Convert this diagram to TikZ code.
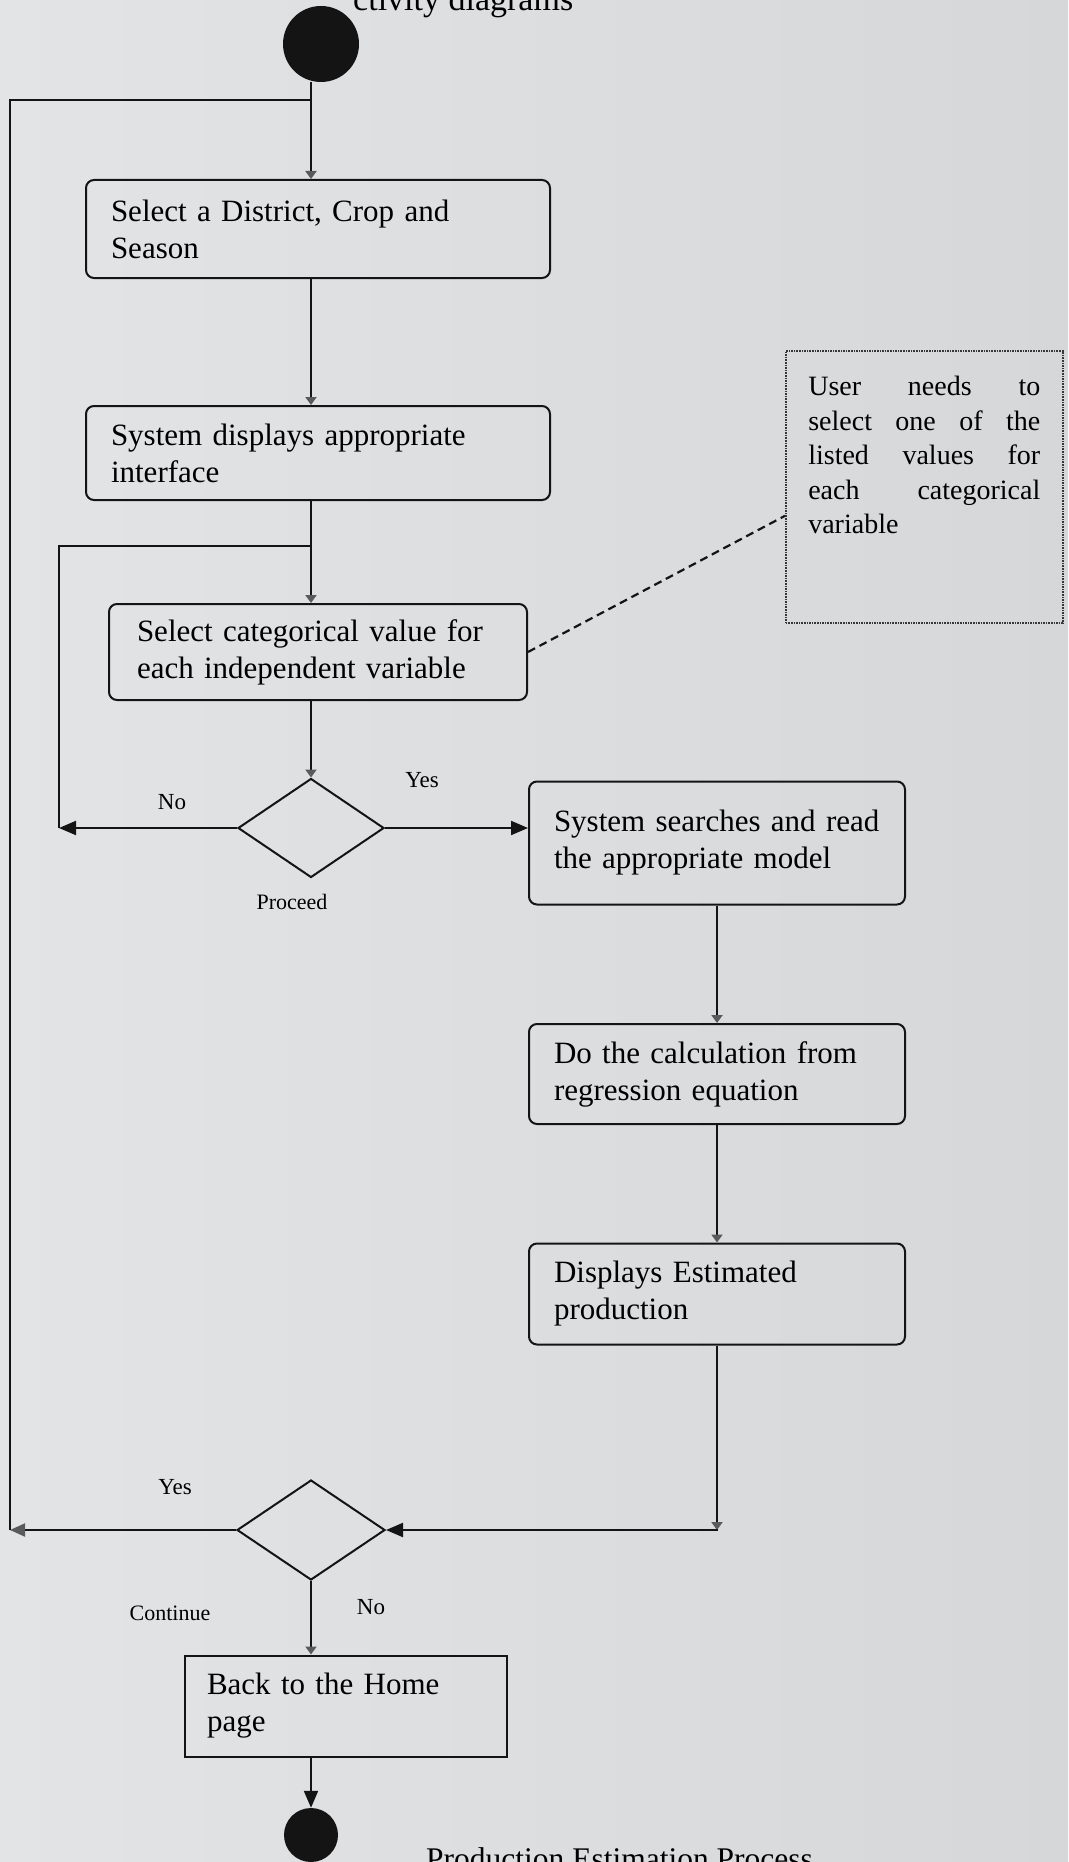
\documentclass[tikz,border=0pt]{standalone}
\usepackage{fontspec}
\setmainfont{Liberation Serif}
\usetikzlibrary{shapes.geometric,arrows.meta,calc}
\definecolor{paperL}{RGB}{227,228,230}
\definecolor{paperR}{RGB}{213,215,217}
\definecolor{inkc}{RGB}{20,20,20}
\definecolor{tipgray}{RGB}{90,90,92}
% a note line spread over the full note width
\newcommand{\spreadline}[1]{\makebox[232pt][l]{#1}}
\begin{document}
\begin{tikzpicture}[x=1pt,y=-1pt,
  flow/.style={draw=inkc, line width=2pt},
  actbox/.style={draw=inkc, line width=2pt, rounded corners=8pt, align=left,
    inner xsep=0pt, inner ysep=0pt, font=\fontsize{31}{37}\selectfont},
  decision/.style={diamond, draw=inkc, line width=2pt, inner sep=0pt,
    minimum width=146pt, minimum height=99pt},
  smalltip/.style={-{Triangle[length=8pt,width=11pt,color=tipgray]}},
  bigtip/.style={-{Triangle[length=17pt,width=14pt]}},
  fainttip/.style={-{Triangle[length=15pt,width=13pt,color=tipgray]}},
  lbl/.style={inner sep=0pt, font=\fontsize{23}{27}\selectfont},
  guardlbl/.style={inner sep=0pt, font=\fontsize{22}{26}\selectfont},
  blob/.style={circle, fill=inkc, inner sep=0pt},
  notebox/.style={draw=inkc!85, line width=1.6pt, densely dotted, align=left,
    inner xsep=22.5pt, inner ysep=0pt, font=\fontsize{28}{34.5}\selectfont},
  notelink/.style={draw=inkc, line width=2.2pt, dash pattern=on 8pt off 5pt}
]
\useasboundingbox (0,0) rectangle (1068,1862);
\clip (0,0) rectangle (1068,1862);
% paper
\fill[left color=paperL, right color=paperR] (0,0) rectangle (1068,1862);

% heading and caption, both running off the page edge
\node[anchor=base west, inner sep=0pt, font=\fontsize{34}{40}\selectfont] (head) at (353,11) {ctivity diagrams};
\node[anchor=base west, inner sep=0pt, font=\fontsize{31.5}{38}\selectfont] (cap) at (426,1869) {Production Estimation Process};

% main column
\coordinate (spine) at (311,0);
\node[blob, minimum size=76pt] (start) at (321,44) {};
\node[actbox, minimum width=464pt, minimum height=98pt, text width=414pt] (b1) at (318,229)
  {Select a District, Crop and\\Season};
\node[actbox, minimum width=464pt, minimum height=94pt, text width=414pt] (b2) at (318,453)
  {System displays appropriate\\interface};
\node[actbox, minimum width=418pt, minimum height=96pt, text width=362pt] (b3) at (318,652)
  {Select categorical value for\\each independent variable};
\node[decision] (d1) at (311,828) {};

% right column
\node[actbox, minimum width=376pt, minimum height=123pt, text width=326pt] (b4) at (717,843)
  {System searches and read\\the appropriate model};
\node[actbox, minimum width=376pt, minimum height=100pt, text width=326pt] (b5) at (717,1074)
  {Do the calculation from\\regression equation};
\node[actbox, minimum width=376pt, minimum height=101pt, text width=326pt] (b6) at (717,1294)
  {Displays Estimated\\production};

% closing part
\node[decision, minimum width=148pt, minimum height=100pt] (d2) at (311,1530) {};
\node[actbox, sharp corners, minimum width=322pt, minimum height=101pt, text width=278pt] (b7) at (346,1706)
  {Back to the Home\\page};
\node[blob, minimum size=54pt] (end) at (311,1835) {};

% note, justified line by line
\node[notebox, anchor=north west, text width=232pt, text height=45pt, text depth=227pt] (note) at (785,350)
  {\spreadline{User\hfill needs\hfill to}\\
   \spreadline{select\hfill one\hfill of\hfill the}\\
   \spreadline{listed\hfill values\hfill for}\\
   \spreadline{each\hfill categorical}\\
   variable};

% loop-back points
\coordinate (backB) at (59,828);
\coordinate (loopB) at (59,546);
\coordinate (backA) at (10,1530);
\coordinate (loopA) at (10,100);
\coordinate (rbend) at (717,1530);

% connectors
\draw[flow, smalltip] (start.south -| spine) -- (b1.north -| spine);
\draw[flow, smalltip] (b1.south -| spine) -- (b2.north -| spine);
\draw[flow, smalltip] (b2.south -| spine) -- (b3.north -| spine);
\draw[flow, smalltip] (b3.south -| spine) -- (d1.north);
\draw[flow, bigtip] (d1.west) -- (backB);
\draw[flow] (backB) -- (loopB) -- (loopB -| spine);
\draw[flow, bigtip] (d1.east) -- (b4.west |- d1.east);
\draw[flow, smalltip] (b4.south) -- (b5.north);
\draw[flow, smalltip] (b5.south) -- (b6.north);
\draw[flow, smalltip] (b6.south) -- (rbend);
\draw[flow, bigtip, line cap=rect] (rbend) -- (d2.east);
\draw[flow, fainttip] (d2.west) -- (backA);
\draw[flow] (backA) -- (loopA) -- (loopA -| spine);
\draw[flow, smalltip] (d2.south) -- (b7.north -| d2.south);
\draw[flow, bigtip] (b7.south -| spine) -- (end.north);
\draw[notelink] (b3.east) -- ([yshift=-29pt]note.west);

% guard labels
\node[lbl] (yes1) at (422,780) {Yes};
\node[lbl] (no1) at (172,802) {No};
\node[guardlbl] (proceed) at (292,902) {Proceed};
\node[lbl] (yes2) at (175,1487) {Yes};
\node[guardlbl] (cont) at (170,1613) {Continue};
\node[lbl] (no2) at (371,1607) {No};
\end{tikzpicture}
\end{document}
